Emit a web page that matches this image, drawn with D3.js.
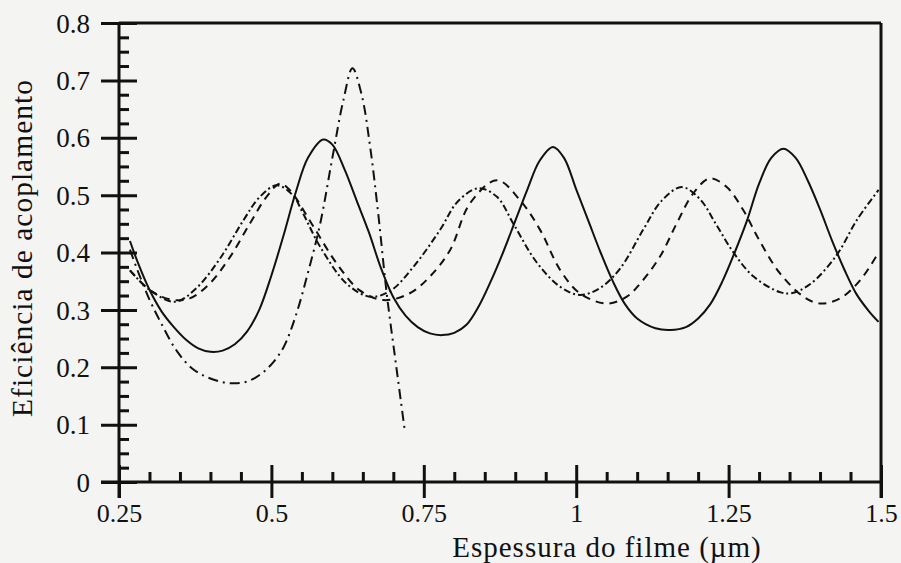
<!DOCTYPE html>
<html>
<head>
<meta charset="utf-8">
<script src="https://cdn.jsdelivr.net/npm/d3@7"></script>
<style>
  html, body { margin: 0; padding: 0; background: #f4f4f2; }
  svg { display: block; }
  text { font-family: "Liberation Serif", "Times New Roman", serif; fill: #111; }
</style>
</head>
<body>
<svg id="chart" width="901" height="563"></svg>
<script>
// Film thickness (µm) and coupling efficiency for each curve
const solidX = [0.268, 0.28, 0.30, 0.32, 0.34, 0.36, 0.38, 0.40, 0.42, 0.44, 0.46, 0.48, 0.50, 0.52, 0.54, 0.56, 0.585, 0.60, 0.62, 0.64, 0.66, 0.68, 0.70, 0.72, 0.74, 0.76, 0.78, 0.80, 0.82, 0.84, 0.86, 0.88, 0.90, 0.92, 0.94, 0.962, 0.98, 1.00, 1.02, 1.04, 1.06, 1.08, 1.10, 1.13, 1.154, 1.18, 1.20, 1.22, 1.24, 1.26, 1.28, 1.30, 1.32, 1.34, 1.36, 1.38, 1.40, 1.42, 1.44, 1.46, 1.48, 1.496];
const solidY = [0.42, 0.385, 0.335, 0.297, 0.27, 0.248, 0.233, 0.227, 0.229, 0.24, 0.262, 0.30, 0.36, 0.43, 0.505, 0.565, 0.597, 0.588, 0.545, 0.49, 0.435, 0.372, 0.322, 0.29, 0.27, 0.259, 0.256, 0.26, 0.274, 0.306, 0.35, 0.40, 0.455, 0.51, 0.56, 0.584, 0.565, 0.51, 0.455, 0.40, 0.35, 0.31, 0.285, 0.268, 0.265, 0.27, 0.285, 0.31, 0.35, 0.40, 0.455, 0.52, 0.565, 0.581, 0.565, 0.525, 0.475, 0.42, 0.37, 0.327, 0.298, 0.279];

const dashedX = [0.268, 0.30, 0.335, 0.366, 0.399, 0.432, 0.465, 0.492, 0.514, 0.53, 0.569, 0.607, 0.645, 0.684, 0.727, 0.76, 0.793, 0.826, 0.87, 0.908, 0.941, 0.974, 1.006, 1.05, 1.083, 1.105, 1.137, 1.165, 1.192, 1.219, 1.247, 1.274, 1.30, 1.334, 1.373, 1.40, 1.433, 1.466, 1.496];
const dashedY = [0.369, 0.335, 0.318, 0.32, 0.346, 0.392, 0.451, 0.497, 0.52, 0.509, 0.445, 0.381, 0.334, 0.317, 0.329, 0.358, 0.404, 0.486, 0.526, 0.491, 0.439, 0.369, 0.329, 0.311, 0.323, 0.346, 0.392, 0.451, 0.503, 0.529, 0.514, 0.474, 0.422, 0.364, 0.323, 0.311, 0.32, 0.352, 0.40];

const dashDotX = [0.268, 0.28, 0.30, 0.32, 0.345, 0.37, 0.394, 0.42, 0.44, 0.46, 0.48, 0.50, 0.52, 0.54, 0.56, 0.58, 0.60, 0.618, 0.633, 0.648, 0.662, 0.675, 0.689, 0.705, 0.719];
const dashDotY = [0.405, 0.37, 0.318, 0.275, 0.228, 0.198, 0.183, 0.174, 0.172, 0.175, 0.186, 0.205, 0.235, 0.29, 0.365, 0.45, 0.565, 0.665, 0.721, 0.675, 0.584, 0.47, 0.33, 0.20, 0.088];

const dashDotDotX = [0.268, 0.30, 0.342, 0.377, 0.416, 0.454, 0.481, 0.509, 0.535, 0.552, 0.58, 0.624, 0.662, 0.695, 0.733, 0.777, 0.805, 0.839, 0.87, 0.897, 0.935, 0.974, 1.006, 1.039, 1.072, 1.11, 1.14, 1.173, 1.203, 1.23, 1.258, 1.291, 1.334, 1.353, 1.384, 1.427, 1.46, 1.496];
const dashDotDotY = [0.369, 0.335, 0.314, 0.338, 0.39, 0.456, 0.497, 0.517, 0.50, 0.468, 0.41, 0.345, 0.323, 0.333, 0.375, 0.44, 0.488, 0.512, 0.497, 0.45, 0.383, 0.34, 0.326, 0.338, 0.372, 0.44, 0.49, 0.514, 0.493, 0.448, 0.40, 0.358, 0.331, 0.329, 0.345, 0.395, 0.456, 0.509];

// Axis ticks
const xMajorTicks = [0.25, 0.5, 0.75, 1, 1.25, 1.5];
const xTickLabels = ["0.25", "0.5", "0.75", "1", "1.25", "1.5"];
const xMinorTicks = [0.3, 0.35, 0.4, 0.45, 0.55, 0.6, 0.65, 0.7, 0.8, 0.85, 0.9, 0.95, 1.05, 1.1, 1.15, 1.2, 1.3, 1.35, 1.4, 1.45];
const yMajorTicks = [0, 0.1, 0.2, 0.3, 0.4, 0.5, 0.6, 0.7, 0.8];
const yTickLabels = ["0", "0.1", "0.2", "0.3", "0.4", "0.5", "0.6", "0.7", "0.8"];
const yMinorTicks = [0.025, 0.05, 0.075, 0.125, 0.15, 0.175, 0.225, 0.25, 0.275, 0.325, 0.35, 0.375, 0.425, 0.45, 0.475, 0.525, 0.55, 0.575, 0.625, 0.65, 0.675, 0.725, 0.75, 0.775];

const xTitle = "Espessura do filme (\u00b5m)";
const yTitle = "Efici\u00eancia de acoplamento";

const svg = d3.select("#chart");
const plotLeft = 119, plotRight = 881, plotTop = 23, plotBottom = 482;

const x = d3.scaleLinear().domain([0.25, 1.5]).range([plotLeft, plotRight]);
const y = d3.scaleLinear().domain([0, 0.8]).range([plotBottom, plotTop]);

const ink = "#111";

// Curves
const series = [
  { xs: solidX, ys: solidY, dash: null },
  { xs: dashedX, ys: dashedY, dash: "8,6" },
  { xs: dashDotX, ys: dashDotY, dash: "10,5,2,5" },
  { xs: dashDotDotX, ys: dashDotDotY, dash: "7,3,2,3" }
];

const line = d3.line()
  .x(d => x(d[0]))
  .y(d => y(d[1]))
  .curve(d3.curveCatmullRom.alpha(0.5));

const curves = svg.append("g");
series.forEach(s => {
  const pts = s.xs.map((v, i) => [v, s.ys[i]]);
  curves.append("path")
    .datum(pts)
    .attr("d", line)
    .attr("fill", "none")
    .attr("stroke", ink)
    .attr("stroke-width", 2)
    .attr("stroke-linejoin", "round")
    .attr("stroke-dasharray", s.dash);
});

// Frame: top and right edges
svg.append("line")
  .attr("x1", x(0.25)).attr("x2", x(1.5))
  .attr("y1", y(0.8)).attr("y2", y(0.8))
  .attr("stroke", ink).attr("stroke-width", 3);
svg.append("line")
  .attr("x1", x(1.5)).attr("x2", x(1.5))
  .attr("y1", y(0.8)).attr("y2", y(0) + 16)
  .attr("stroke", ink).attr("stroke-width", 3);

// Left axis
const yMajor = svg.append("g")
  .attr("transform", `translate(${plotLeft},0)`)
  .call(d3.axisLeft(y).tickValues(yMajorTicks)
    .tickFormat((d, i) => yTickLabels[i]).tickSize(18).tickPadding(11));
yMajor.select(".domain").remove();
yMajor.selectAll(".tick line").attr("x1", 18).attr("x2", -18)
  .attr("stroke", ink).attr("stroke-width", 3);
yMajor.selectAll(".tick text")
  .attr("font-size", 27).attr("font-family", "Liberation Serif").attr("fill", ink)
  .attr("dy", "0.34em");

const yMinor = svg.append("g")
  .attr("transform", `translate(${plotLeft},0)`)
  .call(d3.axisLeft(y).tickValues(yMinorTicks).tickFormat("").tickSize(-10));
yMinor.select(".domain").remove();
yMinor.selectAll(".tick line").attr("stroke", ink).attr("stroke-width", 3);

svg.append("line")
  .attr("x1", plotLeft).attr("x2", plotLeft)
  .attr("y1", y(0.8)).attr("y2", y(0) + 16)
  .attr("stroke", ink).attr("stroke-width", 3);

// Bottom axis
const xMajor = svg.append("g")
  .attr("transform", `translate(0,${plotBottom})`)
  .call(d3.axisBottom(x).tickValues(xMajorTicks)
    .tickFormat((d, i) => xTickLabels[i]).tickSize(16).tickPadding(6));
xMajor.select(".domain").remove();
xMajor.selectAll(".tick line").attr("y1", -17).attr("y2", 16)
  .attr("stroke", ink).attr("stroke-width", 3);
xMajor.selectAll(".tick text")
  .attr("font-size", 26).attr("font-family", "Liberation Serif").attr("fill", ink);

const xMinor = svg.append("g")
  .attr("transform", `translate(0,${plotBottom})`)
  .call(d3.axisBottom(x).tickValues(xMinorTicks).tickFormat("").tickSize(-10));
xMinor.select(".domain").remove();
xMinor.selectAll(".tick line").attr("stroke", ink).attr("stroke-width", 3);

svg.append("line")
  .attr("x1", plotLeft - 18).attr("x2", plotRight)
  .attr("y1", plotBottom).attr("y2", plotBottom)
  .attr("stroke", ink).attr("stroke-width", 3);

// Axis titles
svg.append("text")
  .attr("x", 607).attr("y", 557)
  .attr("text-anchor", "middle")
  .attr("font-size", 29)
  .attr("letter-spacing", 1)
  .text(xTitle);

svg.append("text")
  .attr("transform", "translate(32,248) rotate(-90)")
  .attr("text-anchor", "middle")
  .attr("font-size", 29.5)
  .attr("letter-spacing", 1)
  .text(yTitle);
</script>
</body>
</html>
